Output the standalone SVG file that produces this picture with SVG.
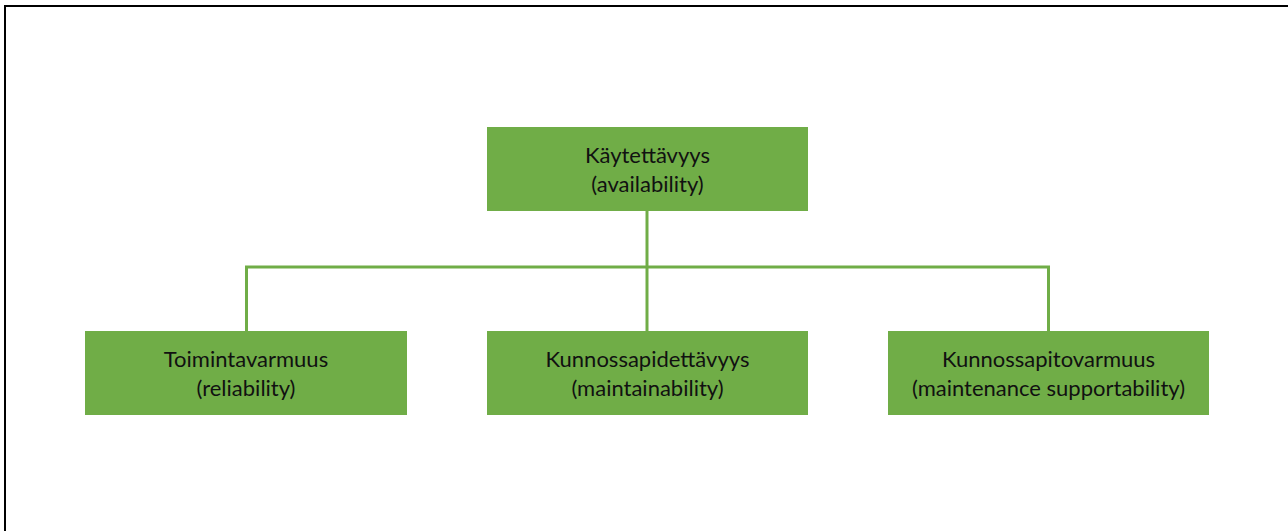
<svg xmlns="http://www.w3.org/2000/svg" width="1288" height="531" viewBox="0 0 1288 531">
<style>
.box{fill:#70AD47;}
.lbl{font-family:Lato,"Open Sans","Liberation Sans",sans-serif;font-size:22px;fill:#111;text-anchor:middle;}
.conn{stroke:#70AD47;stroke-width:3;fill:none;}
</style>
<rect width="1288" height="531" fill="#fff"/>
<path d="M5,531 V6 H1288" fill="none" stroke="#000" stroke-width="2"/>
<g id="connectors">
<path class="conn" d="M647,211 V331"/>
<path class="conn" d="M246.5,331 V267 H1048.5 V331"/>
</g>
<g id="n-availability">
<rect class="box" x="487" y="127" width="321" height="84"/>
<text class="lbl" x="647.5" y="163">Käytettävyys</text>
<text class="lbl" x="647.5" y="192">(availability)</text>
</g>
<g id="n-reliability">
<rect class="box" x="85" y="331" width="322" height="84"/>
<text class="lbl" x="246" y="367">Toimintavarmuus</text>
<text class="lbl" x="246" y="396">(reliability)</text>
</g>
<g id="n-maintainability">
<rect class="box" x="487" y="331" width="321" height="84"/>
<text class="lbl" x="647.5" y="367">Kunnossapidettävyys</text>
<text class="lbl" x="647.5" y="396">(maintainability)</text>
</g>
<g id="n-supportability">
<rect class="box" x="888" y="331" width="321" height="84"/>
<text class="lbl" x="1048.5" y="367">Kunnossapitovarmuus</text>
<text class="lbl" x="1048.5" y="396">(maintenance supportability)</text>
</g>
</svg>
